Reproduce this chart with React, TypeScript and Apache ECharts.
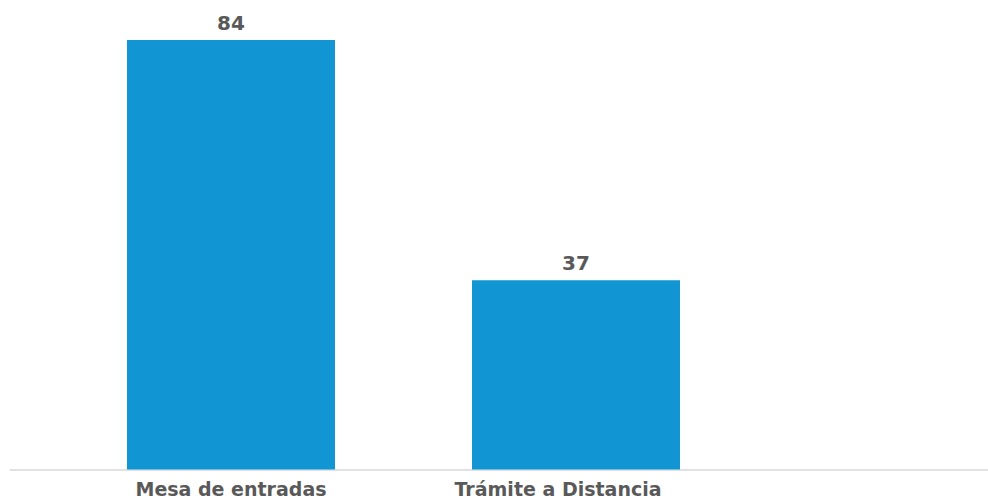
import React, { useEffect, useRef } from "react";
import * as echarts from "echarts";

const categories = ["Mesa de entradas", "Trámite a Distancia"];
const values: number[] = [84, 37];

const FONT = "DejaVu Sans";
const TEXT = "#595959";

export default function App() {
  const ref = useRef<HTMLDivElement>(null);
  useEffect(() => {
    if (!ref.current) return;
    const chart = echarts.init(ref.current, undefined, { renderer: "svg" });
    chart.setOption({
      animation: false,
      grid: [
        { left: 231, right: 412, top: 40, bottom: 30.5, containLabel: false },
        { left: 10, right: 0, top: 40, bottom: 30.5, containLabel: false },
      ],
      xAxis: [
        {
          type: "category",
          gridIndex: 0,
          data: categories,
          boundaryGap: false,
          axisLine: { show: false },
          axisTick: { show: false },
          splitLine: { show: false },
          axisLabel: {
            interval: 0,
            margin: 10,
            fontFamily: FONT,
            fontWeight: "bold",
            fontSize: 19,
            lineHeight: 19,
            color: TEXT,
            formatter: (v: string, i: number) =>
              i === 1 ? "{s|" + v + "}" : "{m|" + v + "}",
            rich: {
              m: {
                fontFamily: FONT,
                fontWeight: "bold",
                fontSize: 19,
                lineHeight: 19,
                color: TEXT,
              },
              s: {
                fontFamily: FONT,
                fontWeight: "bold",
                fontSize: 19,
                lineHeight: 19,
                color: TEXT,
                padding: [0, 36, 0, 0],
              },
            },
          },
        },
        {
          type: "value",
          gridIndex: 1,
          axisLine: { show: true, lineStyle: { color: "#d9d9d9", width: 1.5 } },
          axisTick: { show: false },
          axisLabel: { show: false },
          splitLine: { show: false },
        },
      ],
      yAxis: [
        { type: "value", gridIndex: 0, min: 0, max: 84, show: false },
        { type: "value", gridIndex: 1, show: false },
      ],
      series: [
        {
          type: "bar",
          xAxisIndex: 0,
          yAxisIndex: 0,
          data: values,
          barWidth: 208,
          clip: false,
          itemStyle: { color: "#1195d3" },
          label: {
            show: true,
            position: "top",
            distance: 7,
            fontFamily: FONT,
            fontWeight: "bold",
            fontSize: 20,
            color: TEXT,
          },
        },
      ],
    });
    return () => chart.dispose();
  }, []);
  return (
    <div
      ref={ref}
      style={{ position: "absolute", left: 0, top: 0, width: 988, height: 500 }}
    />
  );
}
